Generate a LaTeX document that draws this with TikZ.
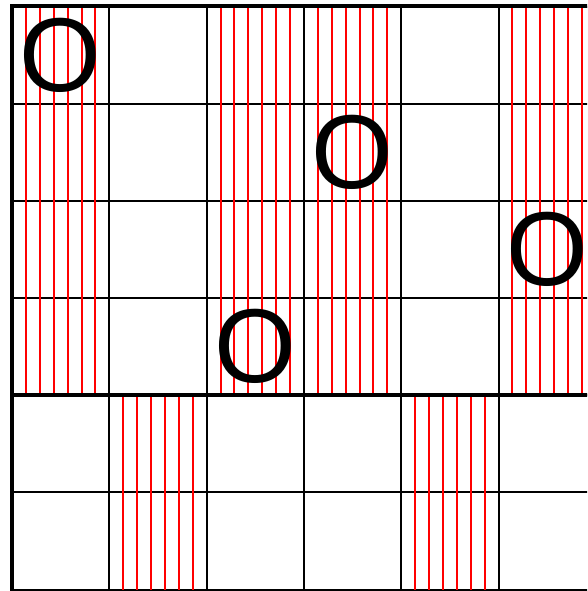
\documentclass[tikz,border=0pt]{standalone}
\usepackage{fontspec}
\setmainfont{Liberation Sans}
\begin{document}
\begin{tikzpicture}[x=1pt,y=-1pt,
  gridthin/.style={line width=1.5pt,black},
  gridthick/.style={line width=4pt,black,line join=miter},
  hatch/.style={line width=1.5pt,red},
  markO/.style={font=\fontsize{105}{105}\selectfont,inner sep=0pt,text=black}]
\def\cw{97.3}\def\ch{97.2}\def\xo{12}\def\yo{6.5}
\useasboundingbox (0,0) rectangle (587,591);
\clip (0,0) rectangle (587,591);
% thin grid
\foreach \i in {0,...,6} {
  \draw[gridthin] ({round(\xo+\i*\cw)},\yo) -- ++(0,{6*\ch});
  \draw[gridthin] (\xo,{round(\yo+\i*\ch)}) -- ++({6*\cw},0);
}
% hatching, upper part: columns 1,3,4,6
\foreach \c in {0,2,3,5} \foreach \k in {1,...,6}
  \draw[hatch] ({round(\xo+\c*\cw+\k*\cw/7)},\yo) -- ++(0,{4*\ch});
% hatching, lower part: columns 2,5
\foreach \c in {1,4} \foreach \k in {1,...,6}
  \draw[hatch] ({round(\xo+\c*\cw+\k*\cw/7)},{\yo+4*\ch}) -- ++(0,{2*\ch});
% thick lines
\draw[gridthick] (\xo,600) -- (\xo,\yo) -- (620,\yo);
\draw[gridthick] (\xo,{\yo+4*\ch}) -- (620,{\yo+4*\ch});
% marks
\node[markO] (o1) at ({\xo+0.5*\cw},{\yo+0.5*\ch}) {O};
\node[markO] (o2) at ({\xo+3.5*\cw},{\yo+1.5*\ch}) {O};
\node[markO] (o3) at ({\xo+5.5*\cw},{\yo+2.5*\ch}) {O};
\node[markO] (o4) at ({\xo+2.5*\cw},{\yo+3.5*\ch}) {O};
\end{tikzpicture}
\end{document}
